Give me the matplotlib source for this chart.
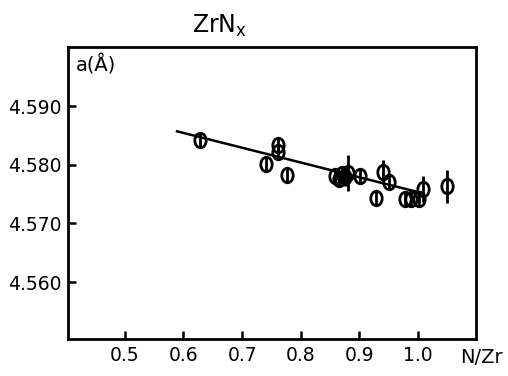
import numpy as np
import matplotlib
matplotlib.use('Agg')
import matplotlib.pyplot as plt
from matplotlib.path import Path

# N/Zr ratio, lattice parameter a (A) and error bar half-length
nzr = [0.629, 0.740, 0.761, 0.761, 0.777, 0.858, 0.866, 0.871, 0.876, 0.881,
       0.901, 0.929, 0.940, 0.951, 0.978, 0.989, 1.002, 1.009, 1.049]
a = [4.5842, 4.5801, 4.5834, 4.5822, 4.5782, 4.5780, 4.5776, 4.5784, 4.5779, 4.5786,
     4.5780, 4.5743, 4.5788, 4.5771, 4.5742, 4.5742, 4.5742, 4.5758, 4.5763]
err = [0.0013, 0.0013, 0.0014, 0.0012, 0.0013, 0.0013, 0.0014, 0.0013, 0.0015, 0.0030,
       0.0013, 0.0013, 0.0020, 0.0013, 0.0013, 0.0013, 0.0013, 0.0022, 0.0028]

# fitted line
fit_x = [0.589, 1.01]
fit_y = [4.5857, 4.5751]

plt.rcParams['font.family'] = ['DejaVu Sans']

fig = plt.figure(figsize=(5.08, 3.76), dpi=100)
ax = fig.add_axes([0.1339, 0.0984, 0.803, 0.777])

# slightly tall ellipse marker
circ = Path.unit_circle()
ell = Path(circ.vertices * np.array([0.78, 1.0]), circ.codes)

ax.plot(fit_x, fit_y, color='k', lw=1.8, zorder=2)
ax.errorbar(nzr, a, yerr=err, fmt='none', ecolor='k', elinewidth=2.0, capsize=0, zorder=3)
ax.plot(nzr, a, linestyle='none', marker=ell, markersize=10.5, markerfacecolor='none',
        markeredgecolor='k', markeredgewidth=2.0, zorder=4)

ax.set_xlim(0.403, 1.099)
ax.set_ylim(4.5503, 4.6001)
ax.set_xticks([0.5, 0.6, 0.7, 0.8, 0.9, 1.0])
ax.set_xticklabels(['0.5', '0.6', '0.7', '0.8', '0.9', '1.0'])
ax.set_yticks([4.56, 4.57, 4.58, 4.59])
ax.set_yticklabels(['4.560', '4.570', '4.580', '4.590'])
ax.tick_params(direction='in', length=6, width=1.8, labelsize=13.5, pad=5)
for s in ax.spines.values():
    s.set_linewidth(2.0)

ax.text(0.02, 0.975, 'a(Å)', transform=ax.transAxes, fontsize=14, va='top', ha='left')
fig.text(0.905, 0.025, 'N/Zr', fontsize=14, ha='left', va='bottom')
fig.text(0.432, 0.93, r'ZrN$_\mathregular{x}$', fontsize=17, ha='center', va='center')

plt.savefig('out.png', dpi=100, facecolor='w', edgecolor='w')
